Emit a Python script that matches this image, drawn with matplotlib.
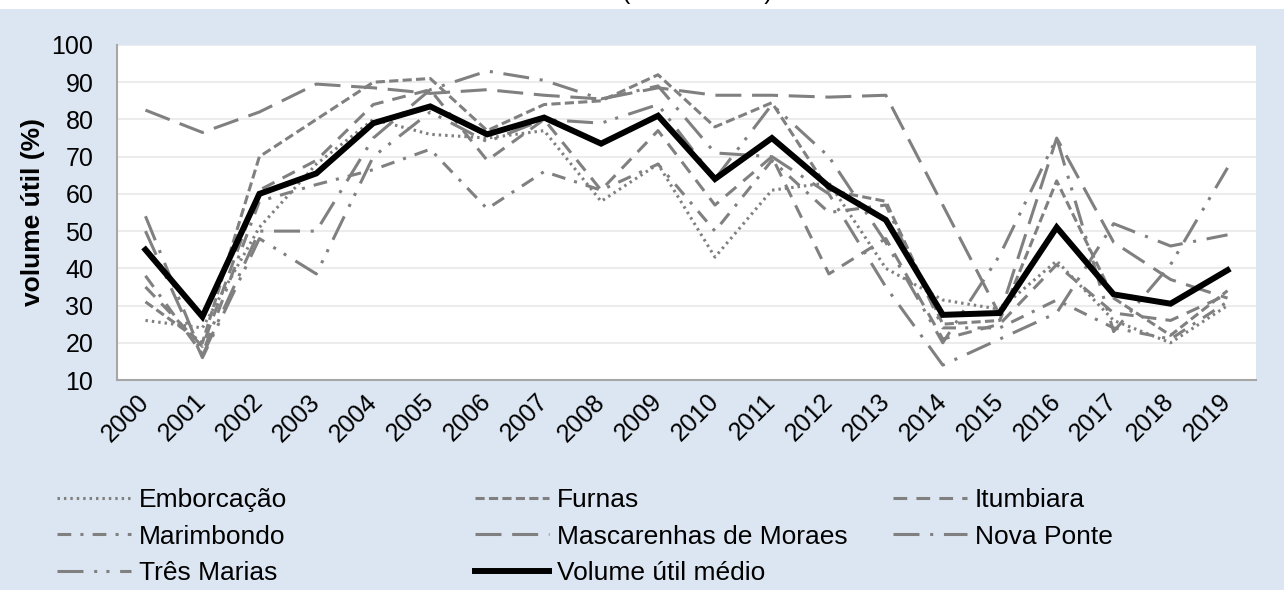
import matplotlib
matplotlib.use("Agg")
import matplotlib.pyplot as plt
from matplotlib.patches import Rectangle

plt.rcParams['font.family'] = ['Liberation Sans', 'DejaVu Sans']

years = [str(y) for y in range(2000, 2020)]

emborcacao = [26, 24, 51, 68, 80, 76, 75, 77, 58, 68, 43, 61, 63, 40, 31.5, 29, 42, 26, 20, 30]
furnas = [31, 20, 70, 80, 90, 91, 77, 84, 85, 92, 78, 84.5, 61, 58, 25, 26, 63.5, 32, 22, 34]
itumbiara = [35, 19, 61, 69, 84, 88, 69, 80, 61, 77, 57, 70, 38.5, 48, 21, 25, 41, 28, 26, 33]
marimbondo = [38, 17, 58, 62.5, 66.5, 72, 56, 66, 61, 68, 50, 69, 55, 57, 24, 24, 31.5, 24, 21, 31]
mascarenhas = [82.5, 76.5, 82, 89.5, 88.5, 87, 88, 86.5, 85.5, 88.5, 86.5, 86.5, 86, 86.5, 57, 27.5, 75, 47, 37, 32]
nova_ponte = [54, 16.5, 50, 50, 75, 88, 93, 90.5, 85.5, 89, 71, 70, 60, 35, 14, 21, 28, 52, 46, 49]
tres_marias = [50, 16, 48, 38.5, 70, 82, 74, 80, 79, 84, 64, 84, 70, 47, 20, 43.5, 75, 23, 41, 67]
media = [45, 27, 60, 65.5, 79, 83.5, 76, 80.5, 73.5, 81, 64, 75, 62, 53, 27.5, 28, 51, 33, 30.5, 39.5]

series = [
    ("Emborcação", emborcacao, (0, (0.8, 1.3))),
    ("Furnas", furnas, (0, (3, 1.4))),
    ("Itumbiara", itumbiara, (0, (4.5, 3))),
    ("Marimbondo", marimbondo, (0, (4.5, 3, 1, 3))),
    ("Mascarenhas de Moraes", mascarenhas, (0, (8.5, 3.5))),
    ("Nova Ponte", nova_ponte, (0, (8.5, 3.5, 1, 3.5))),
    ("Três Marias", tres_marias, (0, (8.5, 3.5, 1, 3, 1, 3.5))),
]

bg = '#dce6f2'
fig = plt.figure(figsize=(12.84, 5.90), dpi=100, facecolor=bg)
fig.patches.append(Rectangle((0, 1 - 9 / 590), 1, 9 / 590, transform=fig.transFigure,
                             facecolor='white', edgecolor='none', zorder=0))
fig.text(697 / 1284, 1 + 1.5 / 590, "(2000 - 2019)", ha='center', va='baseline', fontsize=18)

ax = fig.add_axes([117 / 1284, 1 - 380 / 590, (1256 - 117) / 1284, (380 - 45) / 590])
ax.set_facecolor('white')

handles = {}
x = list(range(len(years)))
for name, vals, ls in series:
    (h,) = ax.plot(x, vals, color='#808080', lw=2.2, linestyle=ls, label=name,
                   solid_capstyle='butt', dash_capstyle='butt')
    handles[name] = h
(hm,) = ax.plot(x, media, color='black', lw=4.3, label="Volume útil médio",
                solid_joinstyle='miter')
handles["Volume útil médio"] = hm

ax.set_xlim(-0.5, len(years) - 0.5)
ax.set_ylim(10, 100)
ax.set_yticks(range(10, 101, 10))
ax.set_xticks(x)
ax.set_xticklabels(years, rotation=45, ha='right', va='center', rotation_mode='anchor')
ax.tick_params(axis='y', length=0, pad=17, labelsize=18)
ax.tick_params(axis='x', length=0, pad=13, labelsize=18)
ax.grid(axis='y', color='#ececec', lw=1.5)
ax.set_axisbelow(True)
for s in ['top', 'right']:
    ax.spines[s].set_visible(False)
for s in ['left', 'bottom']:
    ax.spines[s].set_color('#a6a6a6')
    ax.spines[s].set_linewidth(1.5)
ax.set_ylabel("volume útil (%)", fontsize=19, fontweight='bold', labelpad=5)

cols = [
    (["Emborcação", "Marimbondo", "Três Marias"], 57),
    (["Furnas", "Mascarenhas de Moraes", "Volume útil médio"], 475),
    (["Itumbiara", "Nova Ponte"], 893),
]
for names, xpx in cols:
    leg = fig.legend([handles[n] for n in names], names, loc='upper left',
                     bbox_to_anchor=(xpx / 1284, 1 - 488 / 590), frameon=False,
                     fontsize=19, handlelength=2.8, handletextpad=0.3,
                     labelspacing=0.48, borderpad=0, borderaxespad=0)

fig.savefig("out.png", dpi=100, facecolor=bg)
